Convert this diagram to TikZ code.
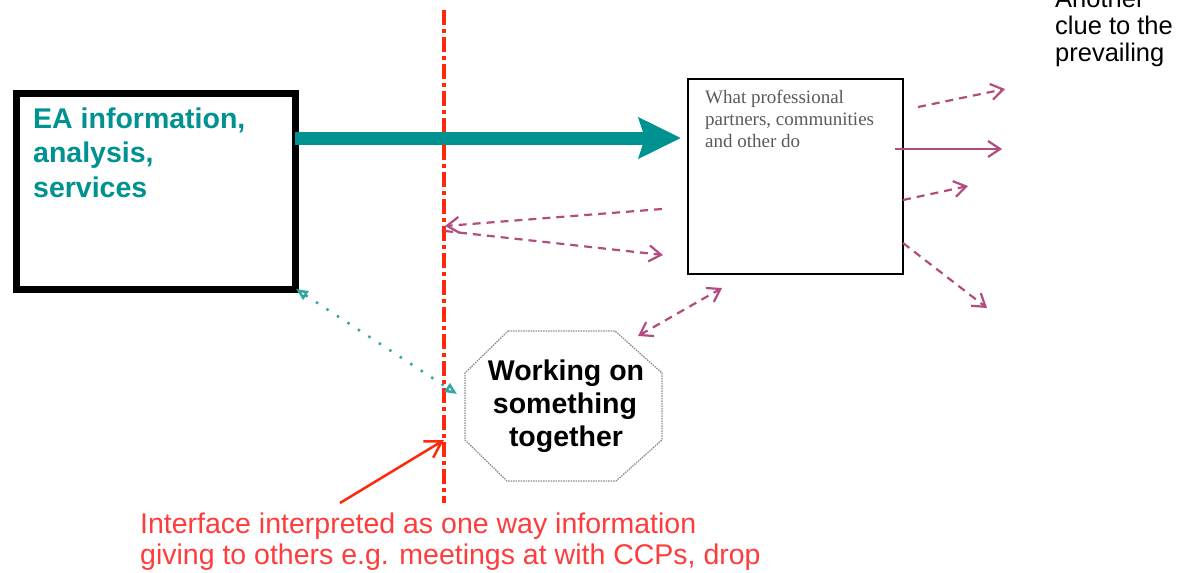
\documentclass[tikz,border=0pt]{standalone}
\usepackage{fontspec}
\setmainfont{Liberation Sans}
\newfontfamily\timesfont{Liberation Serif}
\usetikzlibrary{arrows.meta}
\definecolor{tealmain}{RGB}{0,145,145}
\definecolor{tealdot}{RGB}{50,165,165}
\definecolor{pinkline}{RGB}{178,76,126}
\definecolor{redline}{RGB}{255,40,10}
\definecolor{redtext}{RGB}{255,60,60}
\definecolor{graytext}{RGB}{90,90,90}
\definecolor{octgray}{RGB}{140,140,140}
\tikzset{
  bigfont/.style={font=\bfseries\fontsize{28.5}{34}\selectfont},
  tline/.style={anchor=base west, inner sep=0pt},
  cline/.style={anchor=base, inner sep=0pt},
  pinkdash/.style={pinkline, line width=2.2pt, dash pattern=on 8pt off 6pt},
  pinkhead/.style={-{Straight Barb[length=12pt,width=16pt]}},
  pinkboth/.style={{Straight Barb[length=12pt,width=16pt]}-{Straight Barb[length=12pt,width=16pt]}},
}
\begin{document}
\begin{tikzpicture}[x=1pt,y=-1pt]
\useasboundingbox (0,0) rectangle (1189,573);
\clip (0,0) rectangle (1189,573);

% red interface line
\coordinate (rtop) at (443.5,10);
\coordinate (rbot) at (443.5,503);
\draw[redline, line width=4pt, dash pattern=on 15pt off 4pt on 4pt off 4pt] (rtop) -- (rbot);

% EA box
\node[draw, line width=7pt, minimum width=278.5pt, minimum height=195.5pt, inner sep=0pt, outer sep=0pt] (ea) at (155.75,191.25) {};
\node[tline, bigfont, text=tealmain] (ea1) at (33,128) {EA information,};
\node[tline, bigfont, text=tealmain] (ea2) at (33,162) {analysis,};
\node[tline, bigfont, text=tealmain] (ea3) at (33,197) {services};

% right box
\node[draw, line width=2.2pt, minimum width=215pt, minimum height=195pt, inner sep=0pt, outer sep=0pt] (wp) at (795.5,176.5) {};
\node[tline, font=\timesfont\fontsize{19}{22}\selectfont, text=graytext] (wp1) at (705,103) {What professional};
\node[tline, font=\timesfont\fontsize{19}{22}\selectfont, text=graytext] (wp2) at (705,125) {partners, communities};
\node[tline, font=\timesfont\fontsize{19}{22}\selectfont, text=graytext] (wp3) at (705,147) {and other do};

% main teal arrow
\coordinate (tA) at (681,138);
\draw[tealmain, line width=13pt, -{Stealth[length=42pt,width=40pt,inset=6pt]}] (ea.east |- tA) -- (tA);

% octagon
\draw[octgray, line width=1.3pt, dash pattern=on 1.5pt off 1pt]
  (508,331) -- (615,331) -- (662,373) -- (662,440) -- (616,481) -- (507,481) -- (465,440) -- (465,373) -- cycle;
\node[cline, bigfont] (wk1) at (566,380) {Working on};
\node[cline, bigfont] (wk2) at (565,413) {something};
\node[cline, bigfont] (wk3) at (566,446) {together};

% pink arrows from right box
\coordinate (p1s) at (918,107); \coordinate (p1e) at (1005,89);
\coordinate (p2s) at (895,149); \coordinate (p2e) at (1002,149);
\coordinate (p3s) at (903,200); \coordinate (p3e) at (968,186);
\coordinate (p4s) at (903,243); \coordinate (p4e) at (987,308);
\draw[pinkdash, pinkhead] (p1s) -- (p1e);
\draw[pinkline, line width=2.2pt, pinkhead] (p2s) -- (p2e);
\draw[pinkdash, pinkhead] (p3s) -- (p3e);
\draw[pinkdash, pinkhead] (p4s) -- (p4e);

% pink arrows to / from interface
\coordinate (qAs) at (662,209); \coordinate (qAe) at (445,226);
\coordinate (qBs) at (445,231); \coordinate (qBe) at (663,255);
\draw[pinkdash, pinkhead] (qAs) -- (qAe);
\draw[pinkdash, pinkhead] (qBs) -- (qBe);
\coordinate (qCs) at (638,336); \coordinate (qCe) at (722,288);
\draw[pinkdash, pinkboth] (qCs) -- (qCe);

% teal dotted double arrow
\coordinate (tdE) at (457,394);
\draw[tealdot, line width=2.5pt, dash pattern=on 2.5pt off 10pt,
  {Triangle[open,length=12pt,width=10pt]}-{Triangle[open,length=12pt,width=10pt]}] ([xshift=1pt]ea.south east) -- (tdE);

% red pointer arrow
\coordinate (rpS) at (340,503);
\coordinate (rpE) at (444,440);
\draw[redline, line width=2.5pt, -{Straight Barb[length=16pt,width=19pt]}] (rpS) -- (rpE);

% red caption
\node[tline, font=\fontsize{28.5}{31}\selectfont, text=redtext] (cap1) at (140,533) {Interface interpreted as one way information};
\node[tline, font=\fontsize{28.5}{31}\selectfont, text=redtext] (cap2) at (140,564) {giving to others e.g. meetings at with CCPs, drop};

% top right note
\node[tline, font=\fontsize{25.5}{27}\selectfont] (an1) at (1055,7) {Another};
\node[tline, font=\fontsize{25.5}{27}\selectfont] (an2) at (1055,34) {clue to the};
\node[tline, font=\fontsize{25.5}{27}\selectfont] (an3) at (1055,61) {prevailing};
\end{tikzpicture}
\end{document}
